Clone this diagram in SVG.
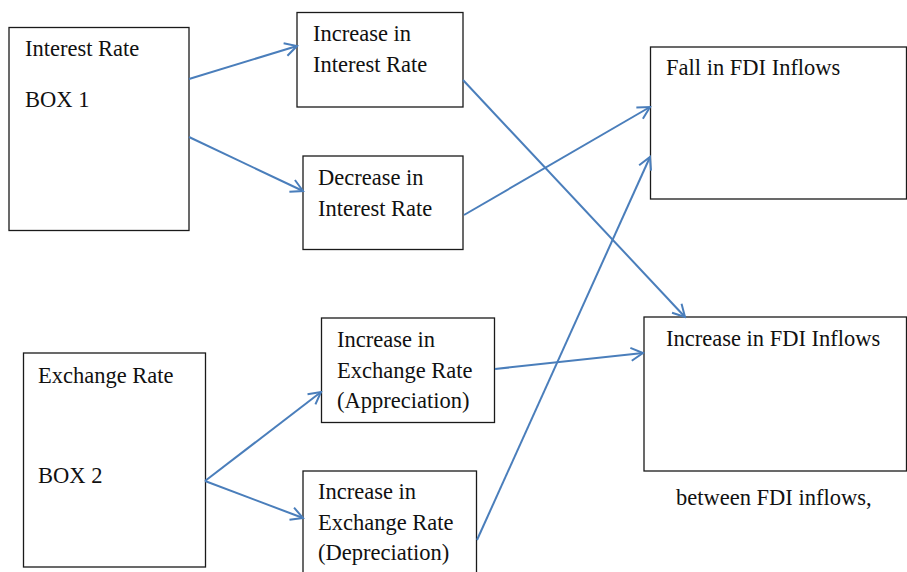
<svg xmlns="http://www.w3.org/2000/svg" width="907" height="572" viewBox="0 0 907 572">
<style>
.box{fill:#fff;stroke:#1a1a1a;stroke-width:1.3}
text{font-family:'Liberation Serif','Times New Roman',Times,'DejaVu Serif',serif;font-size:22.5px;fill:#111}
.c{fill:none;stroke:#4a7ebb;stroke-width:2}
</style>
<defs>
<marker id="ah" markerUnits="userSpaceOnUse" markerWidth="16" markerHeight="16" viewBox="0 0 16 16" refX="14" refY="8" orient="auto">
<path d="M2,1.5 L14,8 L2,14.5" fill="none" stroke="#4a7ebb" stroke-width="2"/>
</marker>
</defs>
<rect width="907" height="572" fill="#fff"/>
<g id="box1"><rect class="box" x="9" y="27.5" width="180" height="203"/><text x="25" y="56">Interest Rate</text><text x="25" y="107">BOX 1</text></g>
<g id="inc-interest"><rect class="box" x="297" y="12.5" width="166" height="94.5"/><text x="313" y="41">Increase in</text><text x="313" y="72">Interest Rate</text></g>
<g id="dec-interest"><rect class="box" x="303" y="156" width="160" height="93.5"/><text x="318" y="185">Decrease in</text><text x="318" y="216">Interest Rate</text></g>
<g id="fall-fdi"><rect class="box" x="650.5" y="47" width="256" height="152"/><text x="666" y="75">Fall in FDI Inflows</text></g>
<g id="inc-fdi"><rect class="box" x="644" y="317" width="262.5" height="154"/><text x="666" y="346">Increase in FDI Inflows</text></g>
<g id="box2"><rect class="box" x="23.5" y="353" width="182" height="214"/><text x="38" y="383">Exchange Rate</text><text x="38" y="483">BOX 2</text></g>
<g id="appreciation"><rect class="box" x="321.5" y="318" width="173" height="104.5"/><text x="337" y="347">Increase in</text><text x="337" y="378">Exchange Rate</text><text x="337" y="408">(Appreciation)</text></g>
<g id="depreciation"><rect class="box" x="303" y="471" width="173.5" height="110"/><text x="318" y="499">Increase in</text><text x="318" y="530">Exchange Rate</text><text x="318" y="560">(Depreciation)</text></g>
<text x="676" y="505">between FDI inflows,</text>
<g id="connectors">
<line class="c" x1="189" y1="79" x2="297" y2="46" marker-end="url(#ah)"/>
<line class="c" x1="189" y1="137" x2="303" y2="191" marker-end="url(#ah)"/>
<line class="c" x1="463" y1="80" x2="685" y2="317" marker-end="url(#ah)"/>
<line class="c" x1="464" y1="215" x2="650" y2="107" marker-end="url(#ah)"/>
<line class="c" x1="477" y1="540" x2="650" y2="157" marker-end="url(#ah)"/>
<line class="c" x1="495" y1="369" x2="643" y2="353" marker-end="url(#ah)"/>
<line class="c" x1="205" y1="481" x2="321" y2="392" marker-end="url(#ah)"/>
<line class="c" x1="205" y1="481" x2="303" y2="518" marker-end="url(#ah)"/>
</g>
</svg>
